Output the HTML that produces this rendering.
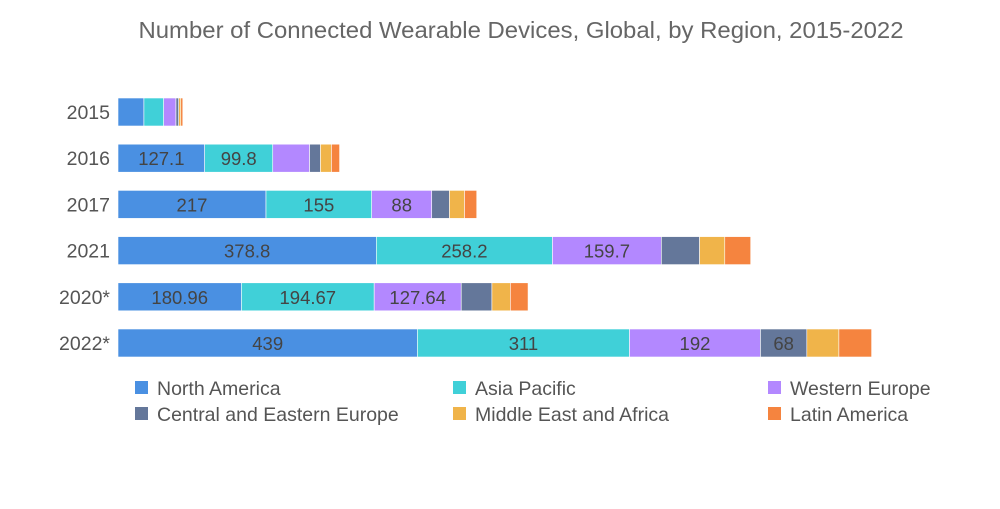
<!DOCTYPE html>
<html><head><meta charset="utf-8"><style>
body{margin:0;background:#fff;font-family:"Liberation Sans",sans-serif;}
svg text{font-family:"Liberation Sans",sans-serif;}
</style></head><body>
<svg id="chart" width="1000" height="504" xmlns="http://www.w3.org/2000/svg">
<text x="521" y="38" text-anchor="middle" font-size="23.5" fill="#666" textLength="765" lengthAdjust="spacingAndGlyphs">Number of Connected Wearable Devices, Global, by Region, 2015-2022</text>
<g id="bars"></g><g id="legend"></g>
</svg>
<script>
const categories = ["2015","2016","2017","2021","2020*","2022*"];
const seriesNames = ["North America","Asia Pacific","Western Europe","Central and Eastern Europe","Middle East and Africa","Latin America"];
const northAmerica = [38,127.1,217,378.8,180.96,439];
const asiaPacific = [29,99.8,155,258.2,194.67,311];
const westernEurope = [18,54,88,159.7,127.64,192];
const centralEasternEurope = [4,16,26,56,45,68];
const middleEastAfrica = [3,16,22,37,27,47];
const latinAmerica = [3,12,18,38,26,48];
const printedLabels = [
 [null,null,null,null,null,null],
 ["127.1","99.8",null,null,null,null],
 ["217","155","88",null,null,null],
 ["378.8","258.2","159.7",null,null,null],
 ["180.96","194.67","127.64",null,null,null],
 ["439","311","192","68",null,null]];
const colors=["#4a90e2","#40d0d8","#b388ff","#64779a","#f0b44a","#f5843f"];
const series=[northAmerica,asiaPacific,westernEurope,centralEasternEurope,middleEastAfrica,latinAmerica];
const NS="http://www.w3.org/2000/svg";
const x0=118, k=0.682;
const xs=v=>v*k;
const yc=i=>112+i*46.2;
const g=document.getElementById('bars');
categories.forEach((c,i)=>{
  const t=document.createElementNS(NS,'text');
  
  
  t.setAttribute('x',110);t.setAttribute('y',yc(i)+7);t.setAttribute('text-anchor','end');
  t.setAttribute('font-size','19.5');t.setAttribute('fill','#555');t.textContent=c;g.appendChild(t);
  let x=x0;
  series.forEach((s,j)=>{
    const w=xs(s[i]);
    const r=document.createElementNS(NS,'rect');
    
    
    r.setAttribute('x',x);r.setAttribute('y',yc(i)-14);r.setAttribute('width',w);r.setAttribute('height',28);
    r.setAttribute('fill',colors[j]);r.setAttribute('stroke','#fff');r.setAttribute('stroke-width','0.6');g.appendChild(r);
    const lab=printedLabels[i][j];
    if(lab){const tt=document.createElementNS(NS,'text');
      
      
      tt.setAttribute('x',x+w/2);tt.setAttribute('y',yc(i)+7);tt.setAttribute('text-anchor','middle');
      tt.setAttribute('font-size','18.5');tt.setAttribute('fill','#444');tt.textContent=lab;g.appendChild(tt);}
    x+=w;
  });
});
const lg=document.getElementById('legend');
const lx=[135,453,768], ly=[388,414];
seriesNames.forEach((n,j)=>{
  const x=lx[j%3], y=ly[Math.floor(j/3)];
  const r=document.createElementNS(NS,'rect');
  
  
  r.setAttribute('x',x);r.setAttribute('y',y-7);r.setAttribute('width',13);r.setAttribute('height',13);r.setAttribute('fill',colors[j]);lg.appendChild(r);
  const t=document.createElementNS(NS,'text');
  
  
  t.setAttribute('x',x+22);t.setAttribute('y',y+7);t.setAttribute('font-size','19.5');t.setAttribute('fill','#555');t.textContent=n;lg.appendChild(t);
});
</script>
</body></html>
